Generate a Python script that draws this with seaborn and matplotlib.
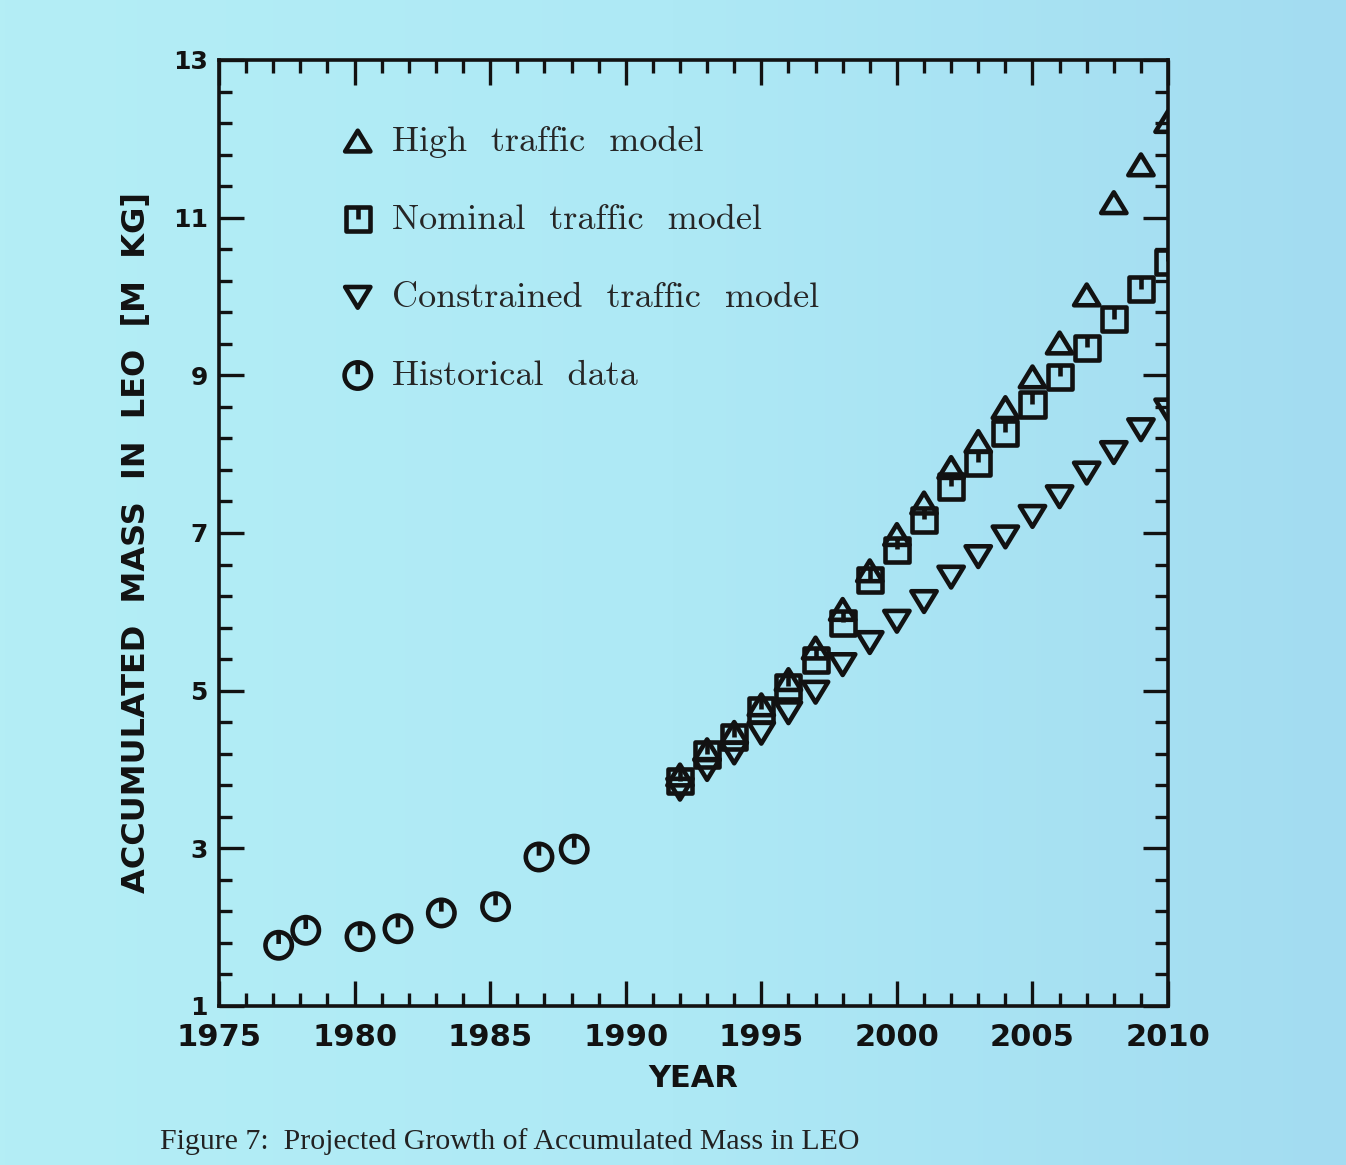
import numpy as np
import matplotlib
matplotlib.use("Agg")
import matplotlib.pyplot as plt
from matplotlib.path import Path
from matplotlib.colors import LinearSegmentedColormap
from matplotlib.font_manager import FontProperties
from matplotlib.ticker import MultipleLocator, FixedLocator
import pandas as pd
import seaborn as sns

# data (mass in million kg)
model_years = [1992, 1993, 1994, 1995, 1996, 1997, 1998, 1999, 2000, 2001,
               2002, 2003, 2004, 2005, 2006, 2007, 2008, 2009, 2010]
high_mass = [3.93, 4.25, 4.47, 4.82, 5.14, 5.54, 6.03, 6.52, 6.98, 7.38,
             7.83, 8.16, 8.59, 8.98, 9.41, 10.02, 11.19, 11.67, 12.22]
nominal_mass = [3.85, 4.19, 4.41, 4.76, 5.05, 5.39, 5.86, 6.40, 6.79, 7.17,
                7.59, 7.89, 8.27, 8.63, 8.98, 9.35, 9.71, 10.09, 10.44]
constrained_mass = [3.75, 4.00, 4.21, 4.46, 4.72, 4.98, 5.33, 5.61, 5.88, 6.13,
                    6.44, 6.70, 6.95, 7.21, 7.46, 7.76, 8.02, 8.31, 8.56]
hist_years = [1977.2, 1978.2, 1980.2, 1981.6, 1983.2, 1985.2, 1986.8, 1988.1]
hist_mass = [1.77, 1.96, 1.88, 1.98, 2.18, 2.26, 2.89, 2.99]

x_ticks = [1975, 1980, 1985, 1990, 1995, 2000, 2005, 2010]
x_tick_labels = ["1975", "1980", "1985", "1990", "1995", "2000", "2005", "2010"]
y_ticks = [1, 3, 5, 7, 9, 11, 13]
y_tick_labels = ["1", "3", "5", "7", "9", "11", "13"]

labels = ["High  traffic  model", "Nominal  traffic  model",
          "Constrained  traffic  model", "Historical  data"]

INK = "#121212"

sns.set_theme(style="ticks")
plt.rcParams["font.family"] = ["DejaVu Sans"]

# plotter-style markers: outline plus a small stroke from the top
LINE = [Path.MOVETO, Path.LINETO]
CLOSED = [Path.MOVETO, Path.LINETO, Path.LINETO, Path.LINETO, Path.CLOSEPOLY]
circle_mk = Path.make_compound_path(Path.unit_circle(),
                                    Path([(0, 1), (0, 0.1)], LINE))
square_mk = Path.make_compound_path(
    Path([(-1, -1), (1, -1), (1, 1), (-1, 1), (-1, -1)], CLOSED),
    Path([(0, 1), (0, 0.05)], LINE))
tri_up_mk = Path([(0, 0.82), (-1, -0.82), (1, -0.82), (0, 0.82)],
                 [Path.MOVETO, Path.LINETO, Path.LINETO, Path.CLOSEPOLY])
tri_dn_mk = Path([(0, -0.82), (-1, 0.82), (1, 0.82), (0, -0.82)],
                 [Path.MOVETO, Path.LINETO, Path.LINETO, Path.CLOSEPOLY])

fig = plt.figure(figsize=(13.46, 11.65), dpi=100)

# scanned page background, a bit bluer to the right
bg = fig.add_axes([0, 0, 1, 1], zorder=-10)
bg_cmap = LinearSegmentedColormap.from_list("page", ["#b4eef5", "#aee9f5", "#a3dcf1"])
bg.imshow(np.linspace(0, 1, 256)[None, :], aspect="auto", cmap=bg_cmap,
          extent=[0, 1, 0, 1])
bg.axis("off")

ax = fig.add_axes([0.1627, 0.1365, 0.7051, 0.812])
ax.set_facecolor("none")

style = dict(facecolor="none", edgecolor=INK, linewidth=3.3, ax=ax)
df_model = pd.DataFrame({"year": model_years, "high": high_mass,
                         "nominal": nominal_mass, "constrained": constrained_mass})
df_hist = pd.DataFrame({"year": hist_years, "mass": hist_mass})

h_con = sns.scatterplot(data=df_model, x="year", y="constrained", marker=tri_dn_mk,
                        s=330, **style).collections[-1]
h_high = sns.scatterplot(data=df_model, x="year", y="high", marker=tri_up_mk,
                         s=330, **style).collections[-1]
h_nom = sns.scatterplot(data=df_model, x="year", y="nominal", marker=square_mk,
                        s=300, **style).collections[-1]
h_hist = sns.scatterplot(data=df_hist, x="year", y="mass", marker=circle_mk,
                         s=360, **style).collections[-1]

ax.set_xlim(1975, 2010)
ax.set_ylim(1, 13)
ax.set_xticks(x_ticks, labels=x_tick_labels, fontweight="bold")
ax.set_yticks(y_ticks, labels=y_tick_labels, fontweight="bold")
ax.xaxis.set_minor_locator(MultipleLocator(1))
ax.yaxis.set_minor_locator(FixedLocator(np.arange(1, 13.01, 0.4)))

for side in ["top", "bottom", "left", "right"]:
    ax.spines[side].set_visible(True)
    ax.spines[side].set_linewidth(2.6)
    ax.spines[side].set_color(INK)

ax.tick_params(which="both", direction="in", top=True, right=True,
               color=INK, labelcolor=INK, width=2.4)
ax.tick_params(which="major", length=18)
ax.tick_params(which="minor", length=9.5)
ax.tick_params(axis="x", which="major", labelsize=22, pad=12)
ax.tick_params(axis="y", which="major", labelsize=18, pad=8)

ax.set_xlabel("YEAR", fontsize=22, fontweight="bold", color=INK)
ax.xaxis.set_label_coords(0.5, -0.061)
ax.set_ylabel("ACCUMULATED  MASS  IN  LEO  [M  KG]", fontsize=23,
              fontweight="bold", color=INK)
ax.yaxis.set_label_coords(-0.071, 0.49)

ax.legend([h_high, h_nom, h_con, h_hist], labels, loc="upper left",
          bbox_to_anchor=(0.131, 0.931), frameon=False, borderpad=0,
          borderaxespad=0, handlelength=0.8, handletextpad=0.55,
          labelspacing=1.27, scatterpoints=1,
          prop=FontProperties(family="cmr10", size=26))

fig.text(160 / 1346, 1 - 1142 / 1165,
         "Figure 7:  Projected Growth of Accumulated Mass in LEO",
         family="Liberation Serif", fontsize=21.5, color="#222222", va="center")

fig.savefig("out.png", dpi=100)
